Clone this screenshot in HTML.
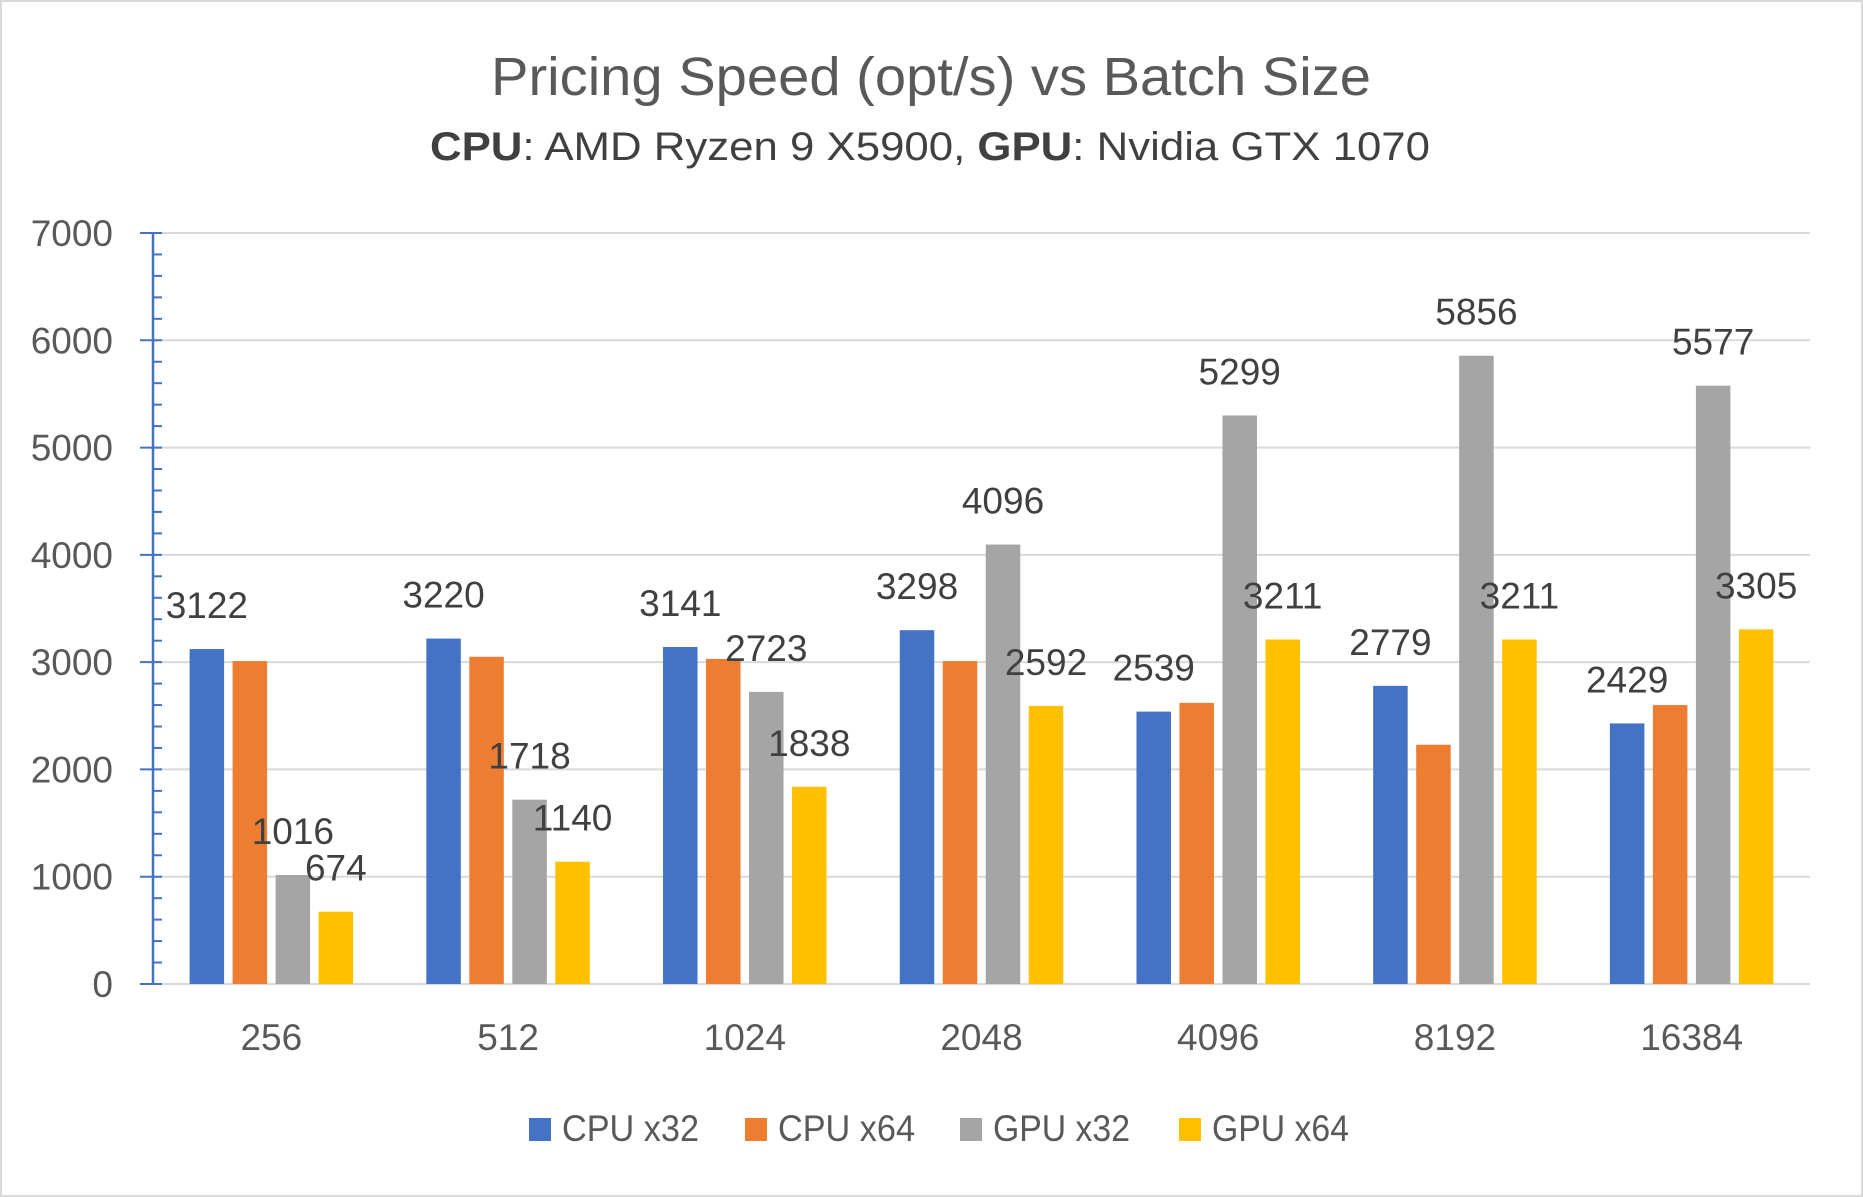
<!DOCTYPE html>
<html><head><meta charset="utf-8">
<style>
html,body{margin:0;padding:0;background:#fff;}
svg{display:block;font-family:"Liberation Sans",sans-serif;}
</style></head>
<body>
<svg id="chart" width="1863" height="1197" viewBox="0 0 1863 1197">
<rect x="1" y="1" width="1861" height="1195" fill="#fff" stroke="#d9d9d9" stroke-width="2"/>
<text x="931" y="95" text-anchor="middle" font-size="54" fill="#595959" textLength="880" lengthAdjust="spacingAndGlyphs">Pricing Speed (opt/s) vs Batch Size</text>
<text x="930" y="160" text-anchor="middle" font-size="40" fill="#404040" textLength="1000" lengthAdjust="spacingAndGlyphs"><tspan font-weight="bold">CPU</tspan>: AMD Ryzen 9 X5900, <tspan font-weight="bold">GPU</tspan>: Nvidia GTX 1070</text>
<g id="grid"></g>
<g id="bars"></g>
<g id="labels"></g>
<g id="axis"></g>
<g id="legend"></g>
</svg>
<script>
const categories = ["256","512","1024","2048","4096","8192","16384"];
const seriesNames = ["CPU x32","CPU x64","GPU x32","GPU x64"];
const cpu32 = [3122,3220,3141,3298,2539,2779,2429];
const cpu64 = [3010,3050,3030,3010,2620,2230,2600];
const gpu32 = [1016,1718,2723,4096,5299,5856,5577];
const gpu64 = [674,1140,1838,2592,3211,3211,3305];
const yTicks = [0,1000,2000,3000,4000,5000,6000,7000];
const labeled = [true,false,true,true];
const colors = ["#4472c4","#ed7d31","#a5a5a5","#ffc000"];
const series = [cpu32,cpu64,gpu32,gpu64];

const NS="http://www.w3.org/2000/svg";
const x0=153,x1=1810,yTop=233,yBot=984,yMax=7000;
const y=v=>yBot-(v/yMax)*(yBot-yTop);
const catW=(x1-x0)/categories.length;
const cx=i=>x0+catW*(i+0.5);
const barW=34.5,step=43;
function mk(tag,attrs,parent){const e=document.createElementNS(NS,tag);for(const k in attrs)e.setAttribute(k,attrs[k]);parent.appendChild(e);return e;}
const grid=document.getElementById('grid'),bars=document.getElementById('bars'),labels=document.getElementById('labels'),axis=document.getElementById('axis'),legend=document.getElementById('legend');

yTicks.forEach(t=>{
  const l=mk('line',{x1:x0,x2:x1,y1:y(t),y2:y(t),stroke:'#d9d9d9','stroke-width':2},grid);
  
  
  const tx=mk('text',{x:113,y:y(t)+13,'text-anchor':'end','font-size':37,fill:'#595959'},axis);
  tx.textContent=t;
  
  
});
const al=mk('line',{x1:x0,x2:x0,y1:yTop,y2:yBot,stroke:'#4472c4','stroke-width':2.5},axis);


for(let v=0;v<=yMax;v+=200){
  const major=v%1000===0;
  const tk=mk('line',{x1:major?140:x0,x2:162,y1:y(v),y2:y(v),stroke:'#4472c4','stroke-width':2},axis);
  
  
}
categories.forEach((c,i)=>{
  const tx=mk('text',{x:cx(i),y:1050,'text-anchor':'middle','font-size':37,fill:'#595959'},axis);
  tx.textContent=c;
  
  
  series.forEach((s,j)=>{
    const bx=cx(i)+(j-1.5)*step-barW/2;
    const r=mk('rect',{x:bx,y:y(s[i]),width:barW,height:yBot-y(s[i]),fill:colors[j]},bars);
    
    
    if(labeled[j]){
      const lt=mk('text',{x:bx+barW/2,y:y(s[i])-31,'text-anchor':'middle','font-size':37,fill:'#404040'},labels);
      lt.textContent=s[i];
      
      
    }
  });
});
const legX=[529,745,960,1179];
seriesNames.forEach((n,j)=>{
  const g=mk('g',{},legend);
  
  
  mk('rect',{x:legX[j],y:1118,width:22,height:23,fill:colors[j]},g);
  const t=mk('text',{x:legX[j]+33,y:1141,'font-size':37,fill:'#595959',textLength:137,lengthAdjust:'spacingAndGlyphs'},g);
  t.textContent=n;
});
</script>
</body></html>
